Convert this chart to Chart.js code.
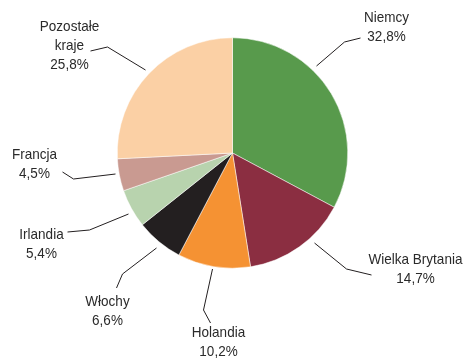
<!DOCTYPE html>
<html>
<head>
<meta charset="utf-8">
<script src="https://cdn.jsdelivr.net/npm/chart.js@4/dist/chart.umd.min.js"></script>
<style>
  html,body{margin:0;padding:0;background:#fff;}
  #wrap{width:465px;height:360px;position:relative;}
</style>
</head>
<body>
<div id="wrap"><canvas id="pie" width="465" height="360"></canvas></div>
<script>
// udział krajów (%)
const countries = ['Niemcy', 'Wielka Brytania', 'Holandia', 'Włochy', 'Irlandia', 'Francja', 'Pozostałe kraje'];
const shares = [32.8, 14.7, 10.2, 6.6, 5.4, 4.5, 25.8];
const sliceColors = ['#589a4c', '#8b2e41', '#f59233', '#231f20', '#b8d3ae', '#c99a91', '#fbd0a5'];

// etykiety: linie tekstu, środek tekstu i łamana odnośnika (px względem środka koła)
const labelLayout = [
  {lines:['Niemcy'], tx:154, ty:-135, pts:[[84,-87],[112,-111],[128,-115]]},
  {lines:['Wielka Brytania'], tx:183, ty:107, pts:[[82,90],[114,116],[139,122]]},
  {lines:['Holandia'], tx:-14, ty:180, pts:[[-20,116],[-29,157],[-22,170]]},
  {lines:['Włochy'], tx:-125, ty:149, pts:[[-76,95],[-110,121],[-116,135]]},
  {lines:['Irlandia'], tx:-191, ty:82, pts:[[-104,61],[-143,77],[-165,79]]},
  {lines:['Francja'], tx:-198, ty:2, pts:[[-117,21],[-159,26],[-170,19]]},
  {lines:['Pozostałe','kraje'], tx:-163, ty:-126, pts:[[-87,-83],[-125,-106],[-142,-102]]}
];

const fmt = v => v.toFixed(1).replace('.', ',') + '%';
const FONT = '15px "Liberation Sans", sans-serif';
const SQUEEZE = 0.9; // węższy krój

const leaderLabels = {
  id:'leaderLabels',
  afterDraw(chart){
    const arc = chart.getDatasetMeta(0).data[0];
    const cx = arc.x, cy = arc.y;
    const ctx = chart.ctx;
    ctx.save();
    ctx.strokeStyle = '#231f20';
    ctx.lineWidth = 1;
    ctx.fillStyle = '#2a2a2a';
    ctx.font = FONT;
    ctx.textAlign = 'center';
    ctx.textBaseline = 'middle';
    labelLayout.forEach((l, i) => {
      ctx.beginPath();
      l.pts.forEach(([x, y], k) => k ? ctx.lineTo(cx + x, cy + y) : ctx.moveTo(cx + x, cy + y));
      ctx.stroke();
      const text = l.lines.concat([fmt(shares[i])]);
      text.forEach((t, k) => {
        ctx.save();
        ctx.translate(cx + l.tx, cy + l.ty + k * 19);
        ctx.scale(SQUEEZE, 1);
        ctx.fillText(t, 0, 0);
        ctx.restore();
      });
    });
    ctx.restore();
  }
};

new Chart(document.getElementById('pie'), {
  type:'pie',
  data:{
    labels:countries,
    datasets:[{data:shares, backgroundColor:sliceColors, borderColor:'#ffffff', borderWidth:0.5}]
  },
  options:{
    responsive:false,
    animation:false,
    rotation:0,
    layout:{padding:{left:117, right:117, top:37, bottom:91}},
    plugins:{legend:{display:false}, tooltip:{enabled:false}}
  },
  plugins:[leaderLabels]
});
</script>
</body>
</html>
